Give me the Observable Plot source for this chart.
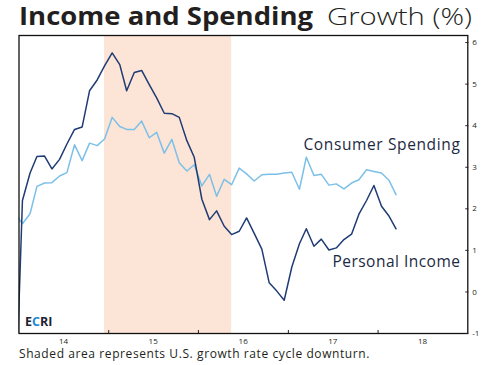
<!DOCTYPE html>
<html><head><meta charset="utf-8">
<script src="https://cdn.jsdelivr.net/npm/d3@7"></script>
<script src="https://cdn.jsdelivr.net/npm/@observablehq/plot@0.6"></script>
<style>
body{margin:0;background:#fff;font-family:"Open Sans",sans-serif;}
#wrap{position:relative;width:495px;height:365px;overflow:hidden;}
.tt{position:absolute;top:0.5px;font-size:24.5px;line-height:30px;color:#231f20;white-space:nowrap;transform-origin:0 50%;}
#t1{left:19px;font-weight:700;}
#t2{left:327px;font-weight:300;}
#chart{position:absolute;left:0;top:34px;}
#caption{position:absolute;left:19px;top:348.3px;font-size:12px;line-height:12px;color:#231f20;white-space:nowrap;}
</style></head><body>
<div id="wrap">
<span class="tt" id="t1">Income and Spending</span><span class="tt" id="t2">Growth (%)</span>
<div id="chart"></div>
<div id="caption">Shaded area represents U.S. growth rate cycle downturn.</div>
</div>
<script>
// Monthly data, Dec 2013 .. Mar 2018 (year-over-year growth, %)
const firstMonth = "2013-12-01";
const income = [
  -3.3,
  2.2, 2.86, 3.26, 3.27, 2.96, 3.19, 3.56, 3.91, 3.97, 4.84, 5.10, 5.44,
  5.75, 5.47, 4.84, 5.28, 5.33, 4.99, 4.67, 4.30, 4.29, 4.20, 3.64, 3.24,
  2.23, 1.74, 1.95, 1.58, 1.38, 1.46, 1.78, 1.41, 1.03, 0.22, 0.02, -0.20,
  0.60, 1.16, 1.52, 1.10, 1.27, 1.01, 1.06, 1.26, 1.39, 1.87, 2.20, 2.56,
  2.06, 1.82, 1.52
];
const spending = [
  1.89,
  1.64, 1.88, 2.54, 2.62, 2.63, 2.79, 2.87, 3.54, 3.16, 3.58, 3.52, 3.68,
  4.20, 3.98, 3.91, 3.91, 4.11, 3.71, 3.84, 3.34, 3.67, 3.11, 2.91, 3.06,
  2.55, 2.83, 2.30, 2.71, 2.58, 2.98, 2.84, 2.67, 2.82, 2.83, 2.83, 2.86,
  2.88, 2.47, 3.24, 2.80, 2.83, 2.57, 2.60, 2.48, 2.62, 2.70, 2.94, 2.90,
  2.86, 2.68, 2.34
];
const seriesNames = ["Personal Income", "Consumer Spending"];
const seriesLabelY = [0.60, 3.42];
const labelDate = "2018-12-02";
const shadeStart = "2014-12-15";
const shadeEnd = "2016-05-15";
const yTicks = [-1, 0, 1, 2, 3, 4, 5, 6];
const yearBoundaries = [2015, 2016, 2017, 2018];
const yearLabels = [2014, 2015, 2016, 2017, 2018];

const t0 = new Date(firstMonth);
const dateAt = i => d3.utcDay.offset(d3.utcMonth.offset(t0, i), 14);
const incomeData = income.map((v, i) => ({date: dateAt(i), value: v}));
const spendingData = spending.map((v, i) => ({date: dateAt(i), value: v}));
const shade = [{start: new Date(shadeStart), end: new Date(shadeEnd)}];
const labels = seriesNames.map((n, i) => ({name: n, date: new Date(labelDate), value: seriesLabelY[i]}));

const chart = Plot.plot({
  width: 495, height: 313,
  marginLeft: 18.5, marginRight: 27.7, marginTop: 1, marginBottom: 14,
  style: {fontFamily: "Open Sans", fontSize: "8px", color: "#231f20", background: "transparent"},
  x: {type: "utc", domain: [new Date("2014-01-01"), new Date("2019-01-01")]},
  y: {domain: [-1, 6.17]},
  marks: [
    Plot.rect(shade, {x1: "start", x2: "end", fill: "#fce4d6"}),
    Plot.line(spendingData, {x: "date", y: "value", stroke: "#7cc0e8", strokeWidth: 1.5, clip: true}),
    Plot.line(incomeData, {x: "date", y: "value", stroke: "#1f3c74", strokeWidth: 1.5, clip: true}),
    Plot.frame({stroke: "#111", strokeWidth: 1.3}),
    Plot.axisY({anchor: "right", ticks: yTicks, tickSize: -3, tickPadding: 7.5, tickFormat: d => String(d), label: null}),
    Plot.axisX({ticks: yearBoundaries.map(y => new Date(Date.UTC(y, 0, 1))), tickSize: -3, tickFormat: () => "", label: null}),
    Plot.axisX({ticks: yearLabels.map(y => new Date(Date.UTC(y, 6, 1))), tickSize: 0, tickPadding: 4.5, tickFormat: d3.utcFormat("%y"), label: null}),
    Plot.text(labels, {x: "date", y: "value", text: "name", textAnchor: "end", lineAnchor: "bottom",
      fontSize: 15.5, fill: "#1c2a44", className: "serieslabel"})
  ]
});
document.getElementById("chart").appendChild(chart);

// ECRI logo
const svg = d3.select(chart);
const logo = svg.append("text").attr("x", 25).attr("y", 291.7)
  .attr("text-anchor", "start")
  .attr("font-family", "Open Sans").attr("font-weight", 700).attr("font-size", 12.5);
logo.append("tspan").attr("fill", "#1c2436").text("E");
logo.append("tspan").attr("fill", "#1e88d0").text("C");
logo.append("tspan").attr("fill", "#1c2436").text("RI");

// width fitting
function scaleHtml(el, target) {
  const w = el.getBoundingClientRect().width;
  el.style.transform = "scaleX(" + (target / w) + ")";
}
function fitHtml(el, target) {
  const w = el.getBoundingClientRect().width;
  const n = el.textContent.length;
  el.style.letterSpacing = Math.max(-1.5, Math.min(2.5, (target - w) / n)) + "px";
}
function fitSvg(el, target) {
  const w = el.getComputedTextLength();
  const n = el.textContent.length;
  el.setAttribute("letter-spacing", Math.max(-1.5, Math.min(2.5, (target - w) / n)));
}
scaleHtml(document.getElementById("t1"), 294);
scaleHtml(document.getElementById("t2"), 145);
fitHtml(document.getElementById("caption"), 351);
const sl = chart.querySelectorAll(".serieslabel text");
if (sl.length === 2) { fitSvg(sl[0], 128); fitSvg(sl[1], 157); }
</script>
</body></html>
